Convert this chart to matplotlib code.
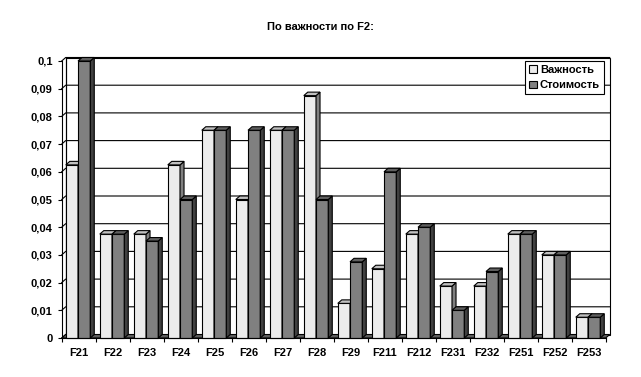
import matplotlib
matplotlib.use("Agg")
import matplotlib.pyplot as plt
from matplotlib.patches import Polygon, Patch
import numpy as np

plt.rcParams['font.family'] = ['Liberation Sans', 'DejaVu Sans']

title = "По важности по F2:"
categories = ["F21", "F22", "F23", "F24", "F25", "F26", "F27", "F28", "F29",
              "F211", "F212", "F231", "F232", "F251", "F252", "F253"]
vazhnost = [0.0625, 0.0375, 0.0375, 0.0625, 0.075, 0.05, 0.075, 0.0875, 0.0125,
            0.025, 0.0375, 0.01875, 0.01875, 0.0375, 0.03, 0.0075]
stoimost = [0.1, 0.0375, 0.035, 0.05, 0.075, 0.075, 0.075, 0.05, 0.0275,
            0.06, 0.04, 0.01, 0.024, 0.0375, 0.03, 0.0075]
series_names = ["Важность", "Стоимость"]
yticks = [0, 0.01, 0.02, 0.03, 0.04, 0.05, 0.06, 0.07, 0.08, 0.09, 0.1]
ytick_labels = ["0", "0,01", "0,02", "0,03", "0,04", "0,05", "0,06", "0,07", "0,08", "0,09", "0,1"]

W, H = 641, 377
fig = plt.figure(figsize=(W / 100, H / 100), dpi=100)
fig.patch.set_facecolor('white')

x0p, x1p = 61.7, 605.7
y0p, y1p = 338.0, 61.0
ax = fig.add_axes([x0p / W, (H - y0p) / H, (x1p - x0p) / W, (y0p - y1p) / H])
n = len(categories)
ymax = 0.1
ax.set_xlim(0, n)
ax.set_ylim(0, ymax)
ax.set_facecolor('none')

# pixel -> data offsets for the depth effect
px_x = (x1p - x0p) / n
px_y = (y0p - y1p) / ymax
DX = 4.0 / px_x
DY = 3.5 / px_y
LW = 0.8

# back wall and side wall
wall = Polygon([[DX, DY], [n + DX, DY], [n + DX, ymax + DY], [DX, ymax + DY]],
               closed=True, facecolor='white', edgecolor='black', lw=LW, zorder=0.5, clip_on=False)
ax.add_patch(wall)
for v in yticks[1:]:
    ax.plot([0, DX, n + DX], [v, v + DY, v + DY], color='black', lw=LW, zorder=0.6, clip_on=False)
ax.plot([0, DX], [0, DY], color='black', lw=LW, zorder=0.6, clip_on=False)
ax.plot([DX, DX], [DY, ymax + DY], color='black', lw=LW, zorder=0.6, clip_on=False)

# floor
floor = Polygon([[0, 0], [n, 0], [n + DX, DY], [DX, DY]], closed=True,
                facecolor='#606060', edgecolor='black', lw=LW, zorder=0.7, clip_on=False)
ax.add_patch(floor)

bw = 0.36
off = 0.12
faces = [('#ECECEC', '#C0C0C0', '#808080'), ('#808080', '#606060', '#404040')]


def bar3d(xl, h, cols, z):
    xr = xl + bw
    front, top, side = cols
    ax.add_patch(Polygon([[xl, 0], [xr, 0], [xr, h], [xl, h]], closed=True,
                         facecolor=front, edgecolor='black', lw=LW, zorder=z, clip_on=False))
    ax.add_patch(Polygon([[xr, 0], [xr + DX, DY], [xr + DX, h + DY], [xr, h]], closed=True,
                         facecolor=side, edgecolor='black', lw=LW, zorder=z, clip_on=False))
    ax.add_patch(Polygon([[xl, h], [xr, h], [xr + DX, h + DY], [xl + DX, h + DY]], closed=True,
                         facecolor=top, edgecolor='black', lw=LW, zorder=z, clip_on=False))


z = 2
for i in range(n):
    bar3d(i + off, vazhnost[i], faces[0], z)
    z += 0.01
    bar3d(i + off + bw, stoimost[i], faces[1], z)
    z += 0.01

for s in ['top', 'right']:
    ax.spines[s].set_visible(False)
for s in ['left', 'bottom']:
    ax.spines[s].set_linewidth(LW)
    ax.spines[s].set_zorder(5)

ax.set_yticks(yticks)
ax.set_yticklabels(ytick_labels, fontsize=8, fontweight='bold')
ax.tick_params(axis='y', direction='out', length=3, width=LW, pad=3.5)

ax.set_xticks(np.arange(n + 1))
ax.set_xticklabels([''] * (n + 1))
ax.set_xticks(np.arange(n) + 0.5, minor=True)
ax.set_xticklabels(categories, minor=True, fontsize=8, fontweight='bold')
ax.tick_params(axis='x', which='major', direction='out', length=3, width=LW)
ax.tick_params(axis='x', which='minor', length=0, pad=7)

fig.text(320 / W, 1 - 27 / H, title, ha='center', va='center', fontsize=8, fontweight='bold')

handles = [Patch(facecolor=faces[0][0], edgecolor='black', lw=LW),
           Patch(facecolor=faces[1][0], edgecolor='black', lw=LW)]
leg = fig.legend(handles, series_names, loc='upper left',
                 bbox_to_anchor=(525 / W, 1 - 61 / H), fontsize=8,
                 prop={'weight': 'bold', 'size': 8},
                 frameon=True, fancybox=False, edgecolor='black', framealpha=1,
                 handlelength=0.7, handleheight=0.7, handletextpad=0.3,
                 labelspacing=0.5, borderpad=0.35, borderaxespad=0)
leg.get_frame().set_linewidth(LW)
leg.set_zorder(10)

fig.savefig("out.png", dpi=100)
